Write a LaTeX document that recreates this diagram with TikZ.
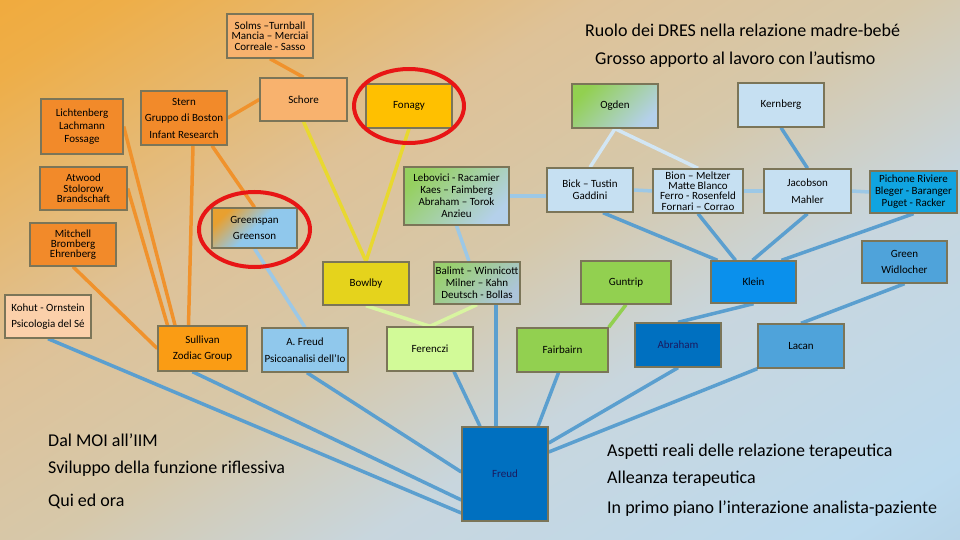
\documentclass[tikz,border=0pt]{standalone}
\usepackage{fontspec}
\setmainfont{Carlito}
\usetikzlibrary{calc}
\pgfdeclarelayer{bg}
\pgfdeclarelayer{edges}
\pgfsetlayers{bg,edges,main}
\definecolor{bgA}{HTML}{F8A01C}
\definecolor{bgB}{HTML}{EEAE48}
\definecolor{bgC}{HTML}{DEC298}
\definecolor{bgD}{HTML}{D6C8AA}
\definecolor{bgE}{HTML}{C8D6DE}
\definecolor{bgF}{HTML}{BCDAEE}
\definecolor{bgG}{HTML}{A8C0D2}
\definecolor{boxline}{HTML}{7B7558}
\definecolor{cpeach}{HTML}{F8B26E}
\definecolor{cgold}{HTML}{FFC000}
\definecolor{corange}{HTML}{F28A2A}
\definecolor{ckohut}{HTML}{FBD0AA}
\definecolor{csull}{HTML}{FA9C14}
\definecolor{cafreud}{HTML}{90C8EC}
\definecolor{cyellow}{HTML}{E5D31C}
\definecolor{cpale}{HTML}{C6E0F2}
\definecolor{cgreen}{HTML}{92D050}
\definecolor{clgreen}{HTML}{D2FA98}
\definecolor{cdblue}{HTML}{0070C0}
\definecolor{cmblue}{HTML}{4FA3DA}
\definecolor{cklein}{HTML}{0A90EC}
\definecolor{cpich}{HTML}{10A4E0}
\definecolor{cgblue}{HTML}{B4D0EA}
\definecolor{cspanor}{HTML}{E8A030}
\definecolor{lnsteel}{HTML}{5B9FCF}
\definecolor{lnlight}{HTML}{9CC8E6}
\definecolor{lnpale}{HTML}{D2E6F4}
\definecolor{lnorange}{HTML}{F0922C}
\definecolor{lnyellow}{HTML}{E8D830}
\definecolor{lnlgreen}{HTML}{D8F5A0}
\definecolor{navy}{HTML}{1A1A60}
\definecolor{ringred}{HTML}{E81515}
\pgfdeclarehorizontalshading{bgsh}{100bp}{color(0bp)=(bgA); color(20bp)=(bgB); color(38bp)=(bgC); color(50bp)=(bgD); color(62bp)=(bgE); color(80bp)=(bgF); color(100bp)=(bgG)}
\pgfdeclarehorizontalshading{gspan}{100bp}{color(0bp)=(cspanor); color(25bp)=(cspanor); color(50bp)=(cafreud); color(100bp)=(cafreud)}
\newcommand{\tightfont}{\fontsize{11}{10.3}\selectfont}
\newcommand{\loosefont}{\fontsize{11}{16.5}\selectfont}
\newcommand{\midfont}{\fontsize{11}{12}\selectfont}
\newcommand{\licfont}{\fontsize{11}{13}\selectfont}
\newcommand{\capfont}{\fontsize{18}{19}\selectfont}
\tikzset{
  box/.style={draw=boxline, line width=1.4pt, inner sep=1pt, align=center, font=\tightfont},
  sz/.style 2 args={minimum width=#1pt, minimum height=#2pt},
  gfill/.style 2 args={left color=#1, right color=#2, shading angle=45},
  con/.style={line width=3.5pt, draw=lnsteel},
  conorange/.style={con, draw=lnorange},
  conyellow/.style={con, draw=lnyellow},
  conlight/.style={con, draw=lnlight},
  conpale/.style={con, draw=lnpale},
  conlgreen/.style={con, draw=lnlgreen},
  congreen/.style={con, draw=cgreen},
  ring/.style={draw=ringred, line width=4pt},
  captext/.style={anchor=west, inner sep=0pt, font=\capfont}
}
\begin{document}
\begin{tikzpicture}[x=1pt,y=-1pt]
\useasboundingbox (0,0) rectangle (960,540);
\begin{pgfonlayer}{bg}
\shade[shading=bgsh, shading angle=-58] (0,0) rectangle (960,540);
\end{pgfonlayer}

\path
 node[box, sz={86}{44}, fill=cpeach] (solms) at (270,36) {Solms --Turnball\\Mancia -- Merciai\\Correale - Sasso}
 node[box, sz={87}{43}, fill=cpeach] (schore) at (303.5,99.5) {Schore}
 node[box, sz={86}{44}, fill=cgold] (fonagy) at (409,106) {Fonagy}
 node[box, sz={86}{54}, fill=corange, font=\loosefont] (stern) at (184,118) {Stern\\Gruppo di Boston\\Infant Research}
 node[box, sz={82}{55}, fill=corange, font=\licfont] (licht) at (82,126.5) {Lichtenberg\\Lachmann\\Fossage}
 node[box, sz={87}{43}, fill=corange] (atwood) at (83.5,188.5) {Atwood\\Stolorow\\Brandschaft}
 node[box, sz={86}{43}, fill=corange] (mitchell) at (73,244.5) {Mitchell\\Bromberg\\Ehrenberg}
 node[box, sz={86}{43}, fill=ckohut, font=\loosefont] (kohut) at (48,316.5) {Kohut - Ornstein\\Psicologia del Sé}
 node[box, sz={89}{45}, fill=csull, font=\loosefont] (sullivan) at (202.5,348.5) {Sullivan\\Zodiac Group}
 node[box, sz={86}{44}, fill=cafreud, font=\loosefont] (afreud) at (305,350) {A. Freud\\Psicoanalisi dell'Io}
 node[box, sz={85}{40}, shade, shading=gspan, shading angle=-45, font=\loosefont] (greenspan) at (254.5,228) {Greenspan\\Greenson}
 node[box, sz={86}{43}, fill=cyellow] (bowlby) at (366,283.5) {Bowlby}
 node[box, sz={105}{58}, gfill={cgreen!90!cgblue}{cgblue}, font=\midfont] (lebovici) at (456.5,196) {Lebovici - Racamier\\Kaes -- Faimberg\\Abraham -- Torok\\Anzieu}
 node[box, sz={86}{42}, gfill={cgreen!80!cgblue}{cgblue!85!gray}, font=\midfont] (balint) at (477,283) {Balimt -- Winnicott\\Milner -- Kahn\\Deutsch - Bollas}
 node[box, sz={86}{44}, fill=cpale, font=\midfont] (bick) at (590,190) {Bick -- Tustin\\Gaddini}
 node[box, sz={90}{43}, fill=cgreen] (guntrip) at (626,282.5) {Guntrip}
 node[box, sz={86}{44}, fill=clgreen] (ferenczi) at (430,349) {Ferenczi}
 node[box, sz={91}{44}, fill=cgreen] (fairbairn) at (562.5,350) {Fairbairn}
 node[box, sz={86}{94}, fill=cdblue, text=navy] (freud) at (505,474) {Freud}
 node[box, sz={86}{44}, fill=cdblue, text=navy] (abraham) at (678,345) {Abraham}
 node[box, sz={86}{44}, fill=cmblue] (lacan) at (801,346) {Lacan}
 node[box, sz={85}{42}, fill=cklein] (klein) at (753.5,282) {Klein}
 node[box, sz={85}{42}, fill=cmblue, font=\loosefont] (green) at (904.5,262) {Green\\Widlocher}
 node[box, sz={90}{44}, fill=cpale] (bion) at (698,191) {Bion -- Meltzer\\Matte Blanco\\Ferro - Rosenfeld\\Fornari -- Corrao}
 node[box, sz={87}{44}, fill=cpale, font=\loosefont] (jacobson) at (807.5,191) {Jacobson\\Mahler}
 node[box, sz={87}{42}, fill=cpich, font=\midfont] (pichone) at (913.5,192) {Pichone Riviere\\Bleger - Baranger\\Puget - Racker}
 node[box, sz={86}{44}, gfill={cgreen}{cgblue}] (ogden) at (615,106) {Ogden}
 node[box, sz={86}{44}, fill=cpale] (kernberg) at (781,105) {Kernberg};

% captions
\node[captext] (t1) at (585,30) {Ruolo dei DRES nella relazione madre-bebé};
\node[captext] (t2) at (595,60) {Grosso apporto al lavoro con l’autismo};
\node[captext] (l1) at (48,440) {Dal MOI all’IIM};
\node[captext] (l2) at (48,469) {Sviluppo della funzione riflessiva};
\node[captext] (l3) at (48,501) {Qui ed ora};
\node[captext] (r1) at (607,452) {Aspetti reali delle relazione terapeutica};
\node[captext] (r2) at (607,479) {Alleanza terapeutica};
\node[captext] (r3) at (607,509) {In primo piano l’interazione analista-paziente};

% red rings
\draw[ring] (fonagy.center) ellipse [x radius=55, y radius=37];
\draw[ring] ([yshift=-1.5pt]greenspan.center) ellipse [x radius=55.5, y radius=37.5];

\begin{pgfonlayer}{edges}
% orange
\draw[conorange] (solms.south) -- (schore.north);
\draw[conorange] (stern.east) -- (schore.west);
\draw[conorange] (licht.east) -- ([xshift=-27.5pt]sullivan.north);
\draw[conorange] (atwood.east) -- ([xshift=-35pt]sullivan.north);
\draw[conorange] (mitchell.south) -- (sullivan.west);
\draw[conorange] ([xshift=9pt]stern.south) -- ([xshift=-14pt]sullivan.north);
\draw[conorange] ([xshift=28pt]stern.south) -- (greenspan.north);
% yellow
\draw[conyellow] (schore.south) -- (bowlby.north);
\draw[conyellow] (fonagy.south) -- (bowlby.north);
% light blue
\draw[conlight] (greenspan.south) -- (afreud.north);
\draw[conlight] (lebovici.south) -- ([xshift=-8pt]balint.north);
\draw[conlight] (lebovici.east) -- ([yshift=-6pt]bick.west);
\draw[conpale] (ogden.south) -- (bick.north);
\draw[conpale] (ogden.south) -- (bion.north);
\draw[conlight] (bick.east) -- (bion.west);
\draw[conlight] (bion.east) -- (jacobson.west);
\draw[conlight] (jacobson.east) -- (pichone.west);
% steel blue
\draw[con] (kernberg.south) -- (jacobson.north);
\draw[con] ([xshift=13pt]bick.south) -- ([xshift=-36pt]klein.north);
\draw[con] (bion.south) -- ([xshift=-18pt]klein.north);
\draw[con] (jacobson.south) -- ([xshift=-1pt]klein.north);
\draw[con] (pichone.south) -- ([xshift=28pt]klein.north);
\draw[con] (klein.south) -- (abraham.north);
\draw[con] (green.south) -- (lacan.north);
\draw[con] (kohut.south) -- ([yshift=-39pt]freud.west);
\draw[con] ([xshift=-10pt]sullivan.south) -- ([yshift=-26pt]freud.west);
\draw[con] ([xshift=2pt]afreud.south) -- ([yshift=2pt]freud.west);
\draw[con] ([xshift=24pt]ferenczi.south) -- ([xshift=-25pt]freud.north);
\draw[con] ([xshift=19pt]balint.south) -- ([xshift=-9pt]freud.north);
\draw[con] ([xshift=-4pt]fairbairn.south) -- ([xshift=33pt]freud.north);
\draw[con] (abraham.south) -- ([yshift=31pt]freud.east);
\draw[con] (lacan.south west) -- ([yshift=22pt]freud.east);
% green
\draw[conlgreen] (bowlby.south) -- (ferenczi.north);
\draw[conlgreen] (balint.south) -- (ferenczi.north);
\draw[congreen] (guntrip.south) -- (fairbairn.north east);
\end{pgfonlayer}
\end{tikzpicture}
\end{document}
